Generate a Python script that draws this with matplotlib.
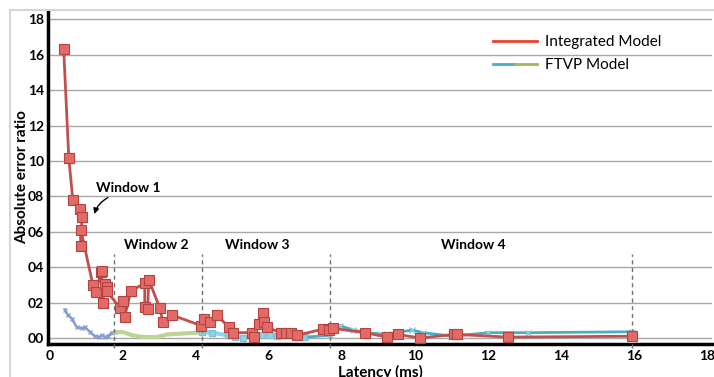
import matplotlib.pyplot as plt
import numpy as np
from matplotlib.lines import Line2D
from matplotlib.legend_handler import HandlerTuple
from matplotlib.patches import Rectangle

plt.rcParams['font.family'] = ['Lato', 'DejaVu Sans']

# Integrated model: latency (ms) vs absolute error ratio
integ_x = [0.38, 0.52, 0.63, 0.82, 0.88, 0.85, 0.85, 1.18, 1.26, 1.40, 1.42,
           1.45, 1.51, 1.56, 1.56, 1.92, 2.00, 2.05, 2.22, 2.60, 2.60, 2.68,
           2.71, 3.01, 3.10, 3.34, 4.14, 4.22, 4.38, 4.58, 4.90, 5.01, 5.53,
           5.59, 5.73, 5.84, 5.86, 5.95, 6.33, 6.47, 6.60, 6.77, 7.48, 7.64,
           7.75, 8.63, 9.23, 9.53, 10.14, 11.07, 11.15, 12.55, 15.95]
integ_y = [16.3, 10.15, 7.8, 7.3, 6.85, 5.2, 6.1, 3.0, 2.6, 3.7, 3.8,
           2.0, 3.05, 2.9, 2.65, 1.7, 2.1, 1.2, 2.65, 3.1, 1.75, 1.65,
           3.3, 1.7, 0.9, 1.3, 0.7, 1.1, 0.9, 1.3, 0.6, 0.3, 0.3,
           0.05, 0.8, 1.4, 0.9, 0.6, 0.3, 0.3, 0.3, 0.15, 0.5, 0.45,
           0.55, 0.3, 0.05, 0.2, 0.0, 0.2, 0.2, 0.05, 0.1]

# FTVP model, one piece per window
ftvp1_x = [0.41, 0.49, 0.60, 0.74, 0.88, 0.96, 1.10, 1.23, 1.34, 1.42,
           1.51, 1.59, 1.70, 1.78]
ftvp1_y = [1.6, 1.3, 1.1, 0.6, 0.55, 0.6, 0.35, 0.1, 0.05, 0.15,
           0.05, 0.1, 0.3, 0.35]
ftvp2_x = [1.78, 1.97, 2.27, 2.55, 2.93, 3.21, 3.62, 4.03, 4.16]
ftvp2_y = [0.3, 0.35, 0.15, 0.05, 0.05, 0.2, 0.25, 0.3, 0.35]
ftvp3_x = [4.16, 4.44, 4.88, 5.07, 5.29, 5.81, 6.03, 6.22, 6.99]
ftvp3_y = [0.35, 0.3, 0.15, 0.05, 0.0, 0.15, 0.15, 0.1, 0.05]
ftvp4_x = [6.99, 7.67, 7.95, 8.30, 8.68, 9.23, 9.92, 10.22, 11.04, 12.0,
           13.1, 15.95]
ftvp4_y = [0.05, 0.15, 0.7, 0.45, 0.3, 0.2, 0.45, 0.3, 0.1, 0.3,
           0.3, 0.35]

window_edges = [1.75, 4.16, 7.67, 15.95]
window_names = ['Window 2', 'Window 3', 'Window 4']
window_label_x = [2.93, 5.67, 11.6]
yticks = [0, 2, 4, 6, 8, 10, 12, 14, 16, 18]
ytick_labels = ['00', '02', '04', '06', '08', '10', '12', '14', '16', '18']
xticks = [0, 2, 4, 6, 8, 10, 12, 14, 16, 18]

RED = '#C0504D'
BLUE = '#859ED0'
GREEN = '#BCD495'
LIGHTBLUE = '#92D3E6'
TEAL = '#4BACC6'

fig = plt.figure(figsize=(7.14, 3.77), dpi=100)
ax = fig.add_axes([48 / 714, 1 - 344 / 377, 664 / 714, 333 / 377])

# chart area border
fig.patches.append(Rectangle((10 / 714, -0.1), 1.0, 1 - 10 / 377 + 0.1,
                             transform=fig.transFigure, fill=False,
                             edgecolor='#D6D6D6', linewidth=1.5))

ax.plot(ftvp1_x, ftvp1_y, color=BLUE, lw=1.8, marker='x', ms=3.5, mew=1)
ax.plot(ftvp2_x, ftvp2_y, color=GREEN, lw=3, solid_capstyle='round')
ax.plot(ftvp3_x, ftvp3_y, color=LIGHTBLUE, lw=3, marker='s', ms=5,
        mec='#7CC3DA')
ax.plot(ftvp4_x, ftvp4_y, color=TEAL, lw=2, marker='x', ms=4, mew=1,
        mec='#8CCBDC')

ax.plot(integ_x, integ_y, color=RED, lw=2, marker='s', ms=6.5,
        mfc='#E26B67', mec='#B5423F', mew=0.8, zorder=5)

for xe in window_edges:
    ax.plot([xe, xe], [-0.55, 4.75], color='#707070', lw=1, ls=(0, (3, 2.5)),
            clip_on=False, zorder=3)

for name, xl in zip(window_names, window_label_x):
    ax.text(xl, 5.25, name, ha='center', va='center', fontsize=10,
            fontweight='bold')
ax.text(2.16, 8.45, 'Window 1', ha='center', va='center', fontsize=10,
        fontweight='bold')
ax.annotate('', xy=(1.2, 6.85), xytext=(1.66, 8.0),
            arrowprops=dict(arrowstyle='-|>', color='black', lw=1,
                            connectionstyle='arc3,rad=0.25',
                            mutation_scale=8))

ax.set_xlim(-0.05, 18.14)
ax.set_ylim(-0.34, 18.47)
ax.set_xticks(xticks)
ax.set_yticks(yticks)
ax.set_yticklabels(ytick_labels)
ax.tick_params(axis='both', length=0, labelsize=10, pad=4)
ax.tick_params(axis='y', pad=3)
for lab in ax.get_xticklabels() + ax.get_yticklabels():
    lab.set_fontweight('bold')
ax.grid(axis='y', color='#A8A8A8', lw=1)
ax.set_axisbelow(True)
for side in ['top', 'right']:
    ax.spines[side].set_visible(False)
for side in ['left', 'bottom']:
    ax.spines[side].set_linewidth(2.5)
    ax.spines[side].set_color('black')

ax.set_xlabel('Latency (ms)', fontsize=11, fontweight='bold')
ax.xaxis.set_label_coords(0.5, -0.062)
ax.set_ylabel('Absolute error ratio', fontsize=11, fontweight='bold')
ax.yaxis.set_label_coords(-0.029, 0.5)

handles = [Line2D([], [], color='#F0402A', lw=2),
           (Line2D([], [], color=TEAL, lw=2), Line2D([], [], color='#9BBB59', lw=2))]
fig.legend(handles, ['Integrated Model', 'FTVP Model'],
           handler_map={tuple: HandlerTuple(ndivide=None, pad=0)},
           loc='upper left', bbox_to_anchor=(493 / 714, 1 - 35 / 377),
           frameon=False, fontsize=11, handlelength=2.9, handletextpad=0.5,
           labelspacing=0.6, borderpad=0, borderaxespad=0)

fig.savefig('out.png', dpi=100)
